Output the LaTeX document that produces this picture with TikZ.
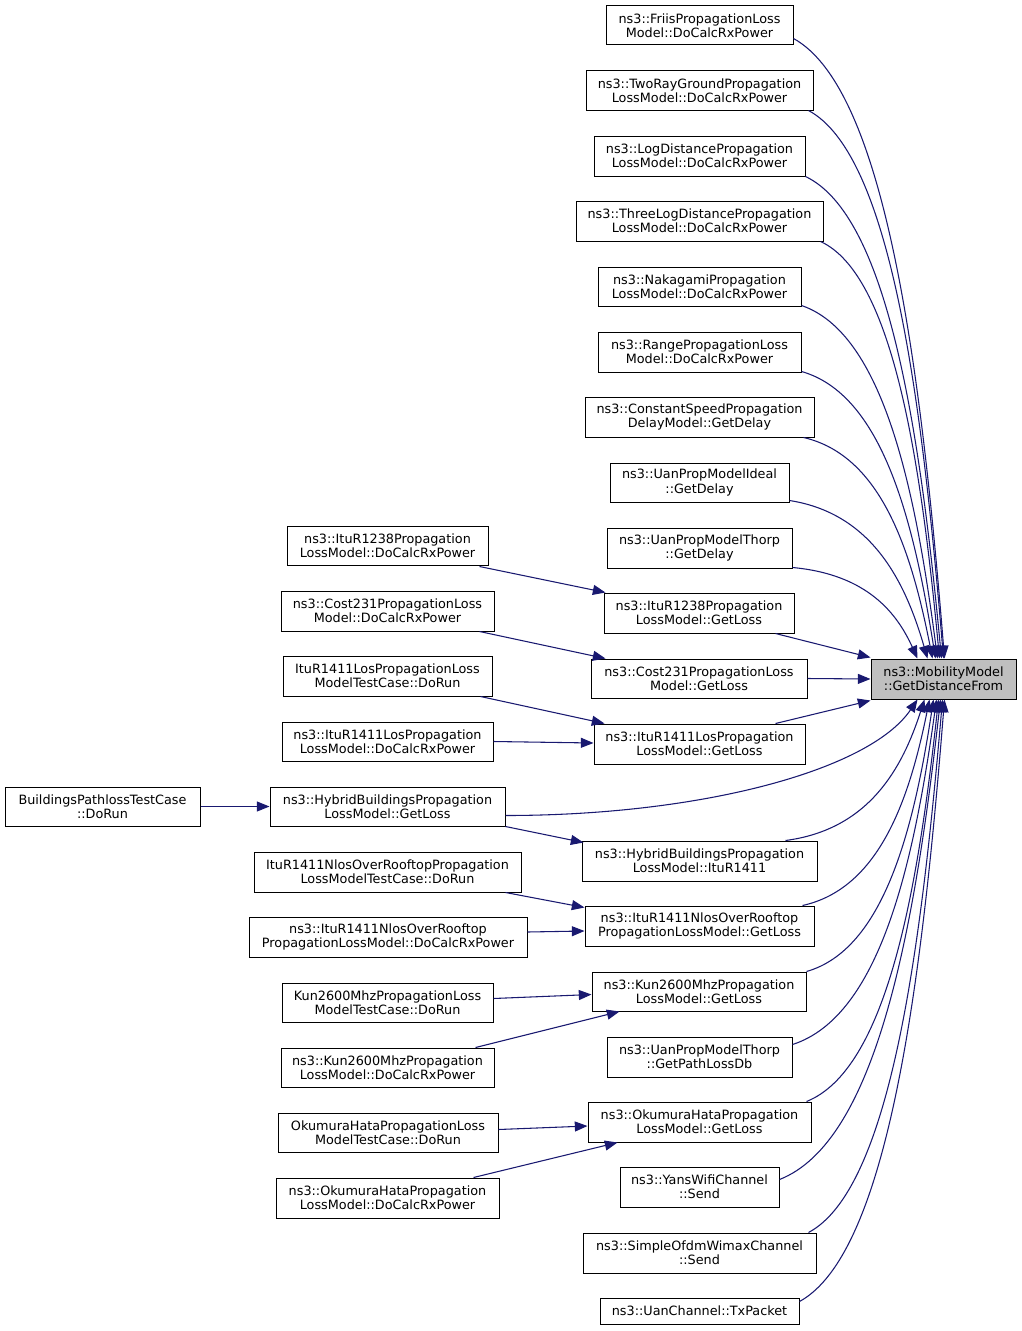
\documentclass[tikz,border=0pt]{standalone}
\usepackage{fontspec}
\setmainfont{DejaVu Sans}
\usetikzlibrary{arrows.meta,calc}
\definecolor{edgecol}{HTML}{191970}
\definecolor{tgtfill}{HTML}{BFBFBF}
\tikzset{
  box/.style={draw=black,line width=0.75pt,fill=white,inner sep=0pt,align=center,
    font=\fontsize{9.6}{10.6}\selectfont},
  tgtbox/.style={box,fill=tgtfill},
  edge/.style={draw=edgecol,line width=0.8pt,-{Triangle[length=9.5pt,width=7.5pt]}}
}
\newcommand\bx[7][]{\node[box,#1,minimum width={(#5-#3)*0.75pt},minimum height={(#6-#4)*0.75pt}] (#2) at ({(#3+#5)/2},{(#4+#6)/2}) {#7};}
\begin{document}
\begin{tikzpicture}[x=0.75pt,y=-0.75pt]
\useasboundingbox (0,0) rectangle (1021,1331);
% target
\bx[tgtbox]{tgt}{871}{659}{1016}{699}{ns3::MobilityModel\\::GetDistanceFrom}
% middle column
\bx{friis}{606}{6}{793}{45}{ns3::FriisPropagationLoss\\Model::DoCalcRxPower}
\bx{tworay}{586}{71}{813}{110}{ns3::TwoRayGroundPropagation\\LossModel::DoCalcRxPower}
\bx{logd}{594}{136}{805}{176}{ns3::LogDistancePropagation\\LossModel::DoCalcRxPower}
\bx{threelog}{576}{201}{823}{241}{ns3::ThreeLogDistancePropagation\\LossModel::DoCalcRxPower}
\bx{naka}{598}{267}{801}{306}{ns3::NakagamiPropagation\\LossModel::DoCalcRxPower}
\bx{range}{598}{332}{801}{372}{ns3::RangePropagationLoss\\Model::DoCalcRxPower}
\bx{cspeed}{585}{397}{814}{437}{ns3::ConstantSpeedPropagation\\DelayModel::GetDelay}
\bx{uanideal}{610}{463}{789}{502}{ns3::UanPropModelIdeal\\::GetDelay}
\bx{uanthorpd}{607}{528}{792}{568}{ns3::UanPropModelThorp\\::GetDelay}
\bx{mitu}{604}{593}{794}{633}{ns3::ItuR1238Propagation\\LossModel::GetLoss}
\bx{mcost}{591}{659}{807}{698}{ns3::Cost231PropagationLoss\\Model::GetLoss}
\bx{mlos}{594}{724}{805}{764}{ns3::ItuR1411LosPropagation\\LossModel::GetLoss}
\bx{mhybitu}{582}{841}{817}{881}{ns3::HybridBuildingsPropagation\\LossModel::ItuR1411}
\bx{mnlos}{585}{906}{814}{946}{ns3::ItuR1411NlosOverRooftop\\PropagationLossModel::GetLoss}
\bx{mkun}{592}{972}{806}{1011}{ns3::Kun2600MhzPropagation\\LossModel::GetLoss}
\bx{uanthorpp}{607}{1037}{792}{1077}{ns3::UanPropModelThorp\\::GetPathLossDb}
\bx{moku}{588}{1102}{811}{1142}{ns3::OkumuraHataPropagation\\LossModel::GetLoss}
\bx{yans}{620}{1167}{779}{1207}{ns3::YansWifiChannel\\::Send}
\bx{ofdm}{583}{1233}{816}{1273}{ns3::SimpleOfdmWimaxChannel\\::Send}
\bx{uanch}{600}{1298}{799}{1324}{ns3::UanChannel::TxPacket}
% left column
\bx{litu}{287}{526}{488}{565}{ns3::ItuR1238Propagation\\LossModel::DoCalcRxPower}
\bx{lcost}{281}{591}{494}{631}{ns3::Cost231PropagationLoss\\Model::DoCalcRxPower}
\bx{llostest}{283}{656}{492}{696}{ItuR1411LosPropagationLoss\\ModelTestCase::DoRun}
\bx{llosdo}{282}{722}{493}{761}{ns3::ItuR1411LosPropagation\\LossModel::DoCalcRxPower}
\bx{lhyb}{270}{787}{505}{826}{ns3::HybridBuildingsPropagation\\LossModel::GetLoss}
\bx{lnlostest}{254}{852}{521}{892}{ItuR1411NlosOverRooftopPropagation\\LossModelTestCase::DoRun}
\bx{lnlosdo}{249}{917}{527}{957}{ns3::ItuR1411NlosOverRooftop\\PropagationLossModel::DoCalcRxPower}
\bx{lkuntest}{282}{983}{493}{1022}{Kun2600MhzPropagationLoss\\ModelTestCase::DoRun}
\bx{lkundo}{281}{1048}{494}{1087}{ns3::Kun2600MhzPropagation\\LossModel::DoCalcRxPower}
\bx{lokutest}{278}{1113}{498}{1152}{OkumuraHataPropagationLoss\\ModelTestCase::DoRun}
\bx{lokudo}{276}{1178}{499}{1218}{ns3::OkumuraHataPropagation\\LossModel::DoCalcRxPower}
\bx{bpl}{5}{787}{200}{826}{BuildingsPathlossTestCase\\::DoRun}
% straight edges
\draw[edge] ($(litu.south east)+(-9,1)$) -- ($(mitu.north west)+(2,0)$);
\draw[edge] ($(lcost.south east)+(-15,0)$) -- ($(mcost.north west)+(15,0)$);
\draw[edge] ($(llostest.south east)+(-12,0)$) -- ($(mlos.north west)+(11,0)$);
\draw[edge] (llosdo.east) -- ($(mlos.west)+(0,-1)$);
\draw[edge] (bpl.east) -- (lhyb.west);
\draw[edge] (lhyb.south east) -- ($(mhybitu.north west)+(2,2)$);
\draw[edge] ($(lnlostest.south east)+(-16,0)$) -- ($(mnlos.north west)+(0,2)$);
\draw[edge] ($(lnlosdo.east)+(0,-5)$) -- ($(mnlos.west)+(0,5)$);
\draw[edge] ($(lkuntest.east)+(0,-4)$) -- ($(mkun.west)+(0,3)$);
\draw[edge] ($(lkundo.north east)+(-19,0)$) -- ($(mkun.south west)+(28,0)$);
\draw[edge] ($(lokutest.east)+(0,-3)$) -- ($(moku.west)+(0,4)$);
\draw[edge] ($(lokudo.north east)+(-26,0)$) -- ($(moku.south west)+(30,0)$);
% edges into target, left side
\draw[edge] ($(mitu.south east)+(-19,0)$) -- ($(tgt.north west)+(0,-1)$);
\draw[edge] (mcost.east) -- (tgt.west);
\draw[edge] ($(mlos.north east)+(-30,0)$) -- ($(tgt.south west)+(0,1)$);
% edges into target, top
\draw[edge] ($(friis.south east)+(0,-7)$) .. controls +(91,50) and +(-24,-298) .. ($(tgt.north west)+(74,0)$);
\draw[edge] ($(tworay.south east)+(-5,0)$) .. controls +(82,44) and +(-22,-264) .. ($(tgt.north west)+(73,0)$);
\draw[edge] (logd.south east) .. controls +(82,39) and +(-22,-232) .. ($(tgt.north west)+(71,0)$);
\draw[edge] ($(threelog.south east)+(-3,0)$) .. controls +(72,33) and +(-19,-201) .. ($(tgt.north west)+(69,0)$);
\draw[edge] ($(naka.south east)+(0,-1)$) .. controls +(82,28) and +(-22,-169) .. ($(tgt.north west)+(67,0)$);
\draw[edge] ($(range.south east)+(0,-1)$) .. controls +(81,23) and +(-22,-138) .. ($(tgt.north west)+(65,0)$);
\draw[edge] ($(cspeed.south east)+(-11,0)$) .. controls +(78,18) and +(-21,-107) .. ($(tgt.north west)+(62,0)$);
\draw[edge] ($(uanideal.south east)+(0,-2)$) .. controls +(83,13) and +(-22,-76) .. ($(tgt.north west)+(57,0)$);
\draw[edge] ($(uanthorpd.south east)+(0,-1)$) .. controls +(76,7) and +(-20,-44) .. ($(tgt.north west)+(47,0)$);
% edges into target, bottom
\draw[edge] ($(lhyb.south east)+(0,-11)$) .. controls +(195,0) and +(-48,71) .. ($(tgt.south west)+(47,0)$);
\draw[edge] ($(mhybitu.north east)+(-32,0)$) .. controls +(84,-11) and +(-22,68) .. ($(tgt.south west)+(54,0)$);
\draw[edge] ($(mnlos.north east)+(-12,0)$) .. controls +(77,-17) and +(-20,99) .. ($(tgt.south west)+(59,0)$);
\draw[edge] (mkun.north east) .. controls +(77,-22) and +(-20,131) .. ($(tgt.south west)+(63,0)$);
\draw[edge] ($(uanthorpp.north east)+(0,8)$) .. controls +(87,-28) and +(-23,166) .. ($(tgt.south west)+(66,0)$);
\draw[edge] ($(moku.north east)+(-5,0)$) .. controls +(80,-32) and +(-21,193) .. ($(tgt.south west)+(68,0)$);
\draw[edge] ($(yans.north east)+(0,13)$) .. controls +(97,-38) and +(-26,231) .. ($(tgt.south west)+(70,0)$);
\draw[edge] ($(ofdm.north east)+(-8,0)$) .. controls +(81,-43) and +(-22,256) .. ($(tgt.south west)+(72,0)$);
\draw[edge] ($(uanch.north east)+(0,4)$) .. controls +(88,-48) and +(-23,289) .. ($(tgt.south west)+(74,0)$);
\end{tikzpicture}
\end{document}
